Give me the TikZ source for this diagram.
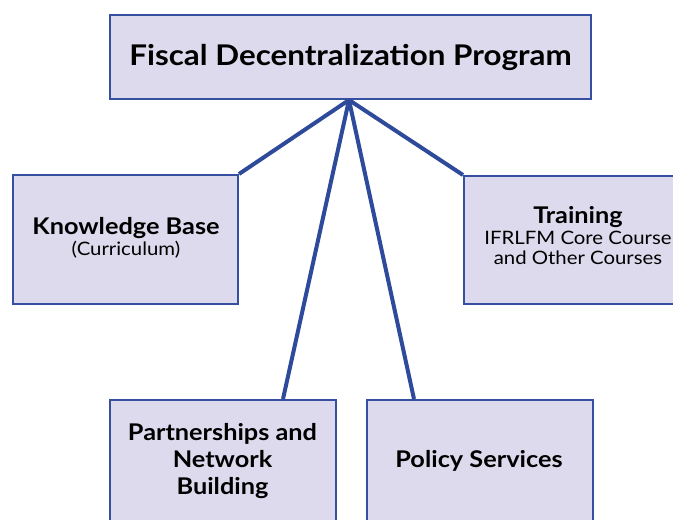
\documentclass[tikz,border=0pt]{standalone}
\usepackage{fontspec}
\setmainfont{Lato}[FakeStretch=1.1]
\begin{document}
\begin{tikzpicture}[x=1pt,y=-1pt,
  box/.style={draw=boxline,fill=boxfill,line width=2pt,inner sep=0pt,align=center},
  label/.style={align=center,inner sep=0pt},
  link/.style={draw=linkblue,line width=4pt}]
\definecolor{boxfill}{HTML}{DCDAEC}
\definecolor{boxline}{HTML}{3550A0}
\definecolor{linkblue}{HTML}{2E4A9A}
\useasboundingbox (0,0) rectangle (673,520);
% program box
\node[box,minimum width=481pt,minimum height=84pt,
  font=\fontsize{28.5}{32}\selectfont\bfseries] (top) at (350.5,57)
  {Fiscal Decentralization Program};
% component boxes
\node[box,minimum width=225pt,minimum height=129pt] (kb) at (125.5,239.5) {};
\node[label,font=\fontsize{18.5}{21}\selectfont] (kbt) at (126,238)
  {{\fontsize{23}{24}\selectfont\bfseries Knowledge Base}\\(Curriculum)};
\node[box,minimum width=230pt,minimum height=128pt,anchor=north west] (tr) at (463,175) {};
\node[label,font=\fontsize{18.5}{20.5}\selectfont] (trt) at (578,236)
  {{\fontsize{23}{24}\selectfont\bfseries Training}\\IFRLFM Core Course\\and Other Courses};
\node[box,minimum width=226pt,minimum height=140pt,anchor=north west] (pn) at (109,399) {};
\node[label,font=\fontsize{23}{27}\selectfont\bfseries] (pnt) at (222.5,461)
  {Partnerships and\\Network\\Building};
\node[box,minimum width=226pt,minimum height=140pt,anchor=north west] (ps) at (366,399) {};
\node[label,font=\fontsize{23}{27}\selectfont\bfseries] (pst) at (479,461) {Policy Services};
% connectors
\coordinate (apex) at ([xshift=-1.5pt]top.south);
\draw[link] (apex) -- (kb.north east);
\draw[link] (apex) -- (tr.north west);
\draw[link] (apex) -- ([xshift=60pt]pn.north);
\draw[link] (apex) -- ([xshift=-66pt]ps.north);
\end{tikzpicture}
\end{document}
